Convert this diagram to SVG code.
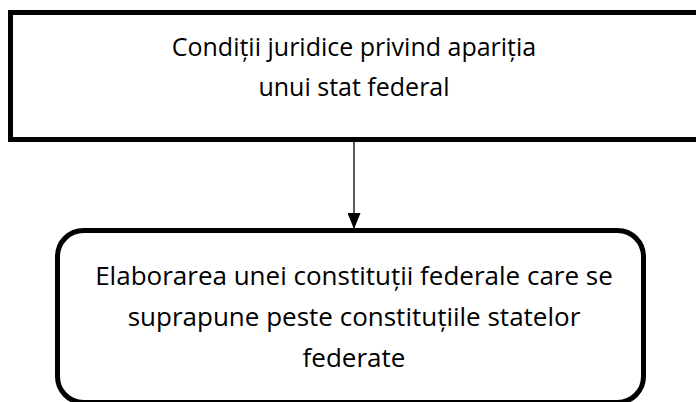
<svg xmlns="http://www.w3.org/2000/svg" width="696" height="402" viewBox="0 0 696 402">
<defs>
<marker id="ah" markerWidth="16" markerHeight="13" refX="15" refY="6.5" orient="auto" markerUnits="userSpaceOnUse" viewBox="0 0 16 13">
<path d="M0,0 L16,6.5 L0,13 Z" fill="#000"/>
</marker>
</defs>
<style>
.t{font-family:"Open Sans","Noto Sans","Liberation Sans",sans-serif;font-size:25px;fill:#000;text-anchor:middle}
.tb{font-size:26px}
.box{fill:#fff;stroke:#000;stroke-width:5}
</style>
<rect width="696" height="402" fill="#fff"/>
<g id="node-top">
<rect class="box" x="10.5" y="12.5" width="700" height="127"/>
<text class="t" x="354" y="56">Condiții juridice privind apariția</text>
<text class="t" x="354" y="96">unui stat federal</text>
</g>
<g id="node-bottom">
<rect class="box" x="57.5" y="230.5" width="586" height="172" rx="26" ry="26"/>
<text class="t tb" x="354" y="285">Elaborarea unei constituții federale care se</text>
<text class="t tb" x="354" y="326">suprapune peste constituțiile statelor</text>
<text class="t tb" x="354" y="367">federate</text>
</g>
<g id="connectors">
<line x1="354" y1="142" x2="354" y2="228" stroke="#000" stroke-width="1.3" marker-end="url(#ah)"/>
</g>
</svg>
